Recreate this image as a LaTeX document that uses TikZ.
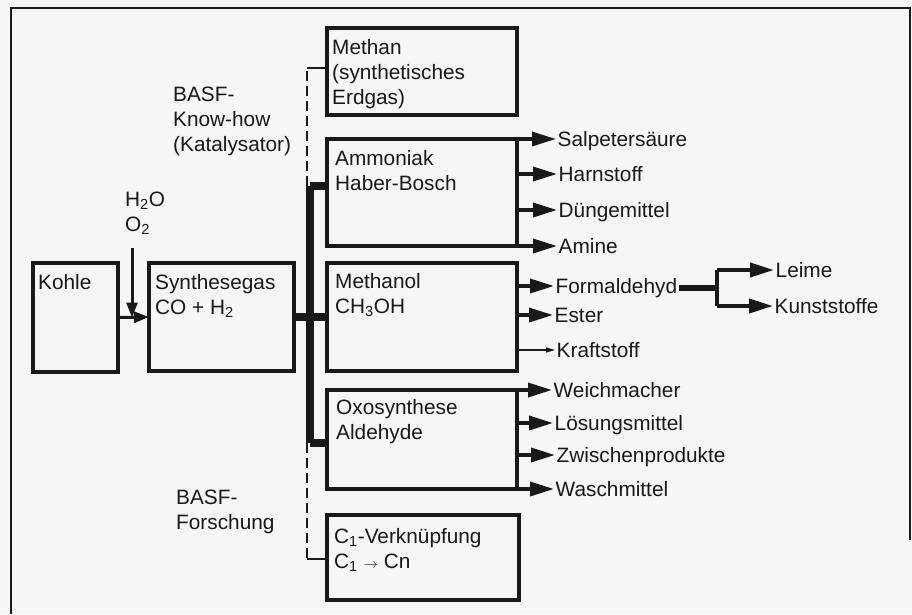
\documentclass[tikz,border=0pt]{standalone}
\usepackage{fontspec}
\setmainfont{Liberation Sans}
\usepackage{xcolor}
\usetikzlibrary{arrows.meta, positioning}

\definecolor{ink}{gray}{0.1}
\definecolor{paper}{gray}{0.965}

\begin{document}
\begin{tikzpicture}[
    x=1pt, y=-1pt,
    font=\fontsize{20.8}{25}\selectfont,
    text=ink,
    >=Triangle,
    box/.style={
        draw=ink,
        line width=4.2pt,
        outer sep=0pt,
        inner sep=0pt,
        anchor=north west
    },
    boxtext/.style={
        anchor=north west,
        inner sep=0pt,
        align=left
    },
    prod/.style={
        anchor=west,
        inner sep=1.5pt,
        text height=14pt,
        text depth=0pt
    },
    bus/.style={
        draw=ink,
        line width=8pt
    },
    dashline/.style={
        draw=ink,
        line width=2.5pt,
        dash pattern=on 10pt off 5pt
    },
    prodarrow/.style={
        draw=ink,
        line width=3.5pt,
        -{Triangle[length=24pt,width=14pt]}
    },
    thinarrow/.style={
        draw=ink,
        line width=1.5pt,
        -{Triangle[length=9pt,width=5pt]}
    },
    feedarrow/.style={
        draw=ink,
        line width=3pt,
        -{Triangle[length=15pt,width=11pt]}
    }
]

% Paper and frame
\fill[paper] (0,0) rectangle (912,614);
\useasboundingbox (0,0) rectangle (912,614);
\draw[ink, line width=1.8pt] (11,614) -- (11,8) -- (910,8) -- (910,540);

% Left: raw material and synthesis gas
\node[box, minimum width=85pt, minimum height=109pt] (kohle) at (33,263) {};
\node[box, minimum width=145pt, minimum height=108pt] (synth) at (149,263) {};
\node[boxtext] (kohletxt) at ([shift={(5,11)}]kohle.north west) {Kohle};
\node[boxtext] (synthtxt) at ([shift={(6,11)}]synth.north west) {Synthesegas\\CO + H\textsubscript{2}};

% Column of processes
\node[box, minimum width=190pt, minimum height=87pt] (methan) at (327,28) {};
\node[box, minimum width=190pt, minimum height=107pt] (ammoniak) at (327,139) {};
\node[box, minimum width=190pt, minimum height=108pt] (methanol) at (327,263) {};
\node[box, minimum width=190pt, minimum height=99pt] (oxo) at (327,390) {};
\node[box, minimum width=192pt, minimum height=85pt] (cverk) at (327,515) {};

\node[boxtext] (methantxt) at ([shift={(5,11)}]methan.north west) {Methan\\(synthetisches\\Erdgas)};
\node[boxtext] (ammoniaktxt) at ([shift={(8,11)}]ammoniak.north west) {Ammoniak\\Haber-Bosch};
\node[boxtext] (methanoltxt) at ([shift={(8,10)}]methanol.north west) {Methanol\\CH\textsubscript{3}OH};
\node[boxtext] (oxotxt) at ([shift={(9,9)}]oxo.north west) {Oxosynthese\\Aldehyde};
\node[boxtext] (cverktxt) at ([shift={(7,13)}]cverk.north west) {C\textsubscript{1}-Verknüpfung\\C\textsubscript{1} $\scriptstyle\rightarrow$ Cn};

% Side notes
\node[boxtext] (wasser) at (125,192) {H\textsubscript{2}O\\O\textsubscript{2}};
\node[boxtext] (knowhow) at (173,87) {BASF-\\Know-how\\(Katalysator)};
\node[boxtext] (forschung) at (176,490) {BASF-\\Forschung};

% Products
\node[prod] (salpeter) at (556,139) {Salpetersäure};
\node[prod] (harnstoff) at (557,174) {Harnstoff};
\node[prod] (duenger) at (557,210) {Düngemittel};
\node[prod] (amine) at (557,246) {Amine};
\node[prod] (formaldehyd) at (554,286) {Formaldehyd};
\node[prod] (ester) at (553,315) {Ester};
\node[prod] (kraftstoff) at (555,350) {Kraftstoff};
\node[prod] (weich) at (552,390) {Weichmacher};
\node[prod] (loesung) at (553,423) {Lösungsmittel};
\node[prod] (zwischen) at (555,455) {Zwischenprodukte};
\node[prod] (wasch) at (554,489) {Waschmittel};
\node[prod] (leime) at (774,270) {Leime};
\node[prod] (kunst) at (773,306) {Kunststoffe};

% Junctions
\coordinate (feed) at (132,248);
\coordinate (jam) at (310,186);
\coordinate (jox) at (310,443);
\coordinate (jme) at (307,68);
\coordinate (jc) at (307,559);
\coordinate (fork) at (717,288);

% Feed
\draw[feedarrow] (kohle.east) -- (synth.west);
\draw[feedarrow] (feed) -- (feed |- kohle.east);

% Bus to the processes
\draw[bus] (synth.east) -- (methanol.west);
\draw[bus] (jam) -- (jox);
\draw[bus] (jam) -- (ammoniak.west |- jam);
\draw[bus] (jox) -- (oxo.west |- jox);
\draw[dashline] (jme |- jam) -- (jme);
\draw[dashline] (jme |- jox) -- (jc);
\draw[ink, line width=2.5pt] (jme) -- (methan.west |- jme);
\draw[ink, line width=2.5pt] (jc) -- (cverk.west |- jc);

% Ammoniak products
\draw[prodarrow] (ammoniak.north east) -- (salpeter.west);
\draw[prodarrow] (ammoniak.east |- harnstoff.west) -- (harnstoff.west);
\draw[prodarrow] (ammoniak.east |- duenger.west) -- (duenger.west);
\draw[prodarrow] (ammoniak.south east) -- (amine.west);

% Methanol products
\draw[prodarrow] (methanol.east |- formaldehyd.west) -- (formaldehyd.west);
\draw[prodarrow] (methanol.east |- ester.west) -- (ester.west);
\draw[thinarrow] (methanol.east |- kraftstoff.west) -- (kraftstoff.west);

% Oxo products
\draw[prodarrow] (oxo.north east) -- (weich.west);
\draw[prodarrow] (oxo.east |- loesung.west) -- (loesung.west);
\draw[prodarrow] (oxo.east |- zwischen.west) -- (zwischen.west);
\draw[prodarrow] (oxo.south east) -- (wasch.west);

% Formaldehyd fork
\draw[ink, line width=6.5pt] (formaldehyd.east |- fork) -- (fork);
\draw[ink, line width=4.5pt] (fork |- leime.west) -- (fork |- kunst.west);
\draw[prodarrow, line width=4pt] (fork |- leime.west) -- (leime.west);
\draw[prodarrow, line width=4pt] (fork |- kunst.west) -- (kunst.west);

\end{tikzpicture}
\end{document}
